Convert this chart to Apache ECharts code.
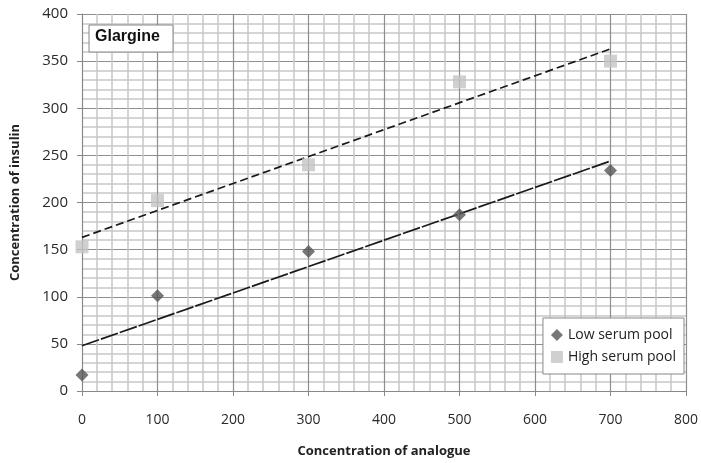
<!DOCTYPE html>
<html>
<head>
<meta charset="utf-8">
<script src="https://cdn.jsdelivr.net/npm/echarts@6/dist/echarts.min.js"></script>
<style>
  html, body { margin: 0; padding: 0; background: #fff; }
  #chart { width: 701px; height: 463px; }
</style>
</head>
<body>
<div id="chart"></div>
<script>
// data
const xValues = [0, 100, 300, 500, 700]
const lowSerum = [17, 101, 148, 187, 234]
const highSerum = [153, 202, 240, 328, 350]
// trend line end points (x = 0 and x = 700)
const trendX = [0, 700]
const lowTrend = [48, 244]
const highTrend = [163, 363]

const pairs = (xs, ys) => xs.map((x, i) => [x, ys[i]])

const chart = echarts.init(document.getElementById('chart'))

const axisText = { color: '#2a2a2a', fontSize: 14, fontFamily: 'Open Sans' }

const option = {
  animation: false,
  graphic: [
    {
      type: 'rect',
      z: 100,
      shape: { x: 89, y: 25, width: 84, height: 27 },
      style: { fill: '#fff', stroke: '#888', lineWidth: 1 }
    },
    {
      type: 'text',
      z: 101,
      x: 95,
      y: 29,
      style: { text: 'Glargine', font: 'bold 16px Liberation Sans', fill: '#111' }
    }
  ],
  grid: { left: 82, right: 14, top: 14, bottom: 71 },
  legend: {
    right: 17,
    top: 318,
    orient: 'vertical',
    itemWidth: 12,
    itemHeight: 12,
    itemGap: 8,
    padding: [10, 8, 10, 8],
    backgroundColor: '#fff',
    borderColor: '#888',
    borderWidth: 1,
    borderRadius: 0,
    textStyle: { color: '#222', fontSize: 14, fontFamily: 'Open Sans' },
    data: [
      { name: 'Low serum pool', icon: 'diamond' },
      { name: 'High serum pool', icon: 'rect' }
    ]
  },
  xAxis: {
    type: 'value',
    min: 0,
    max: 800,
    interval: 100,
    name: 'Concentration of analogue',
    nameLocation: 'middle',
    nameGap: 54,
    nameTextStyle: { color: '#222', fontSize: 13, fontWeight: 'bold', fontFamily: 'Open Sans' },
    axisLine: { lineStyle: { color: '#888', width: 1 } },
    axisTick: { show: true, length: 5, lineStyle: { color: '#888' } },
    axisLabel: Object.assign({ margin: 22 }, axisText),
    splitLine: { lineStyle: { color: '#8e8e8e', width: 1.2 } },
    minorTick: { show: false, splitNumber: 5 },
    minorSplitLine: { show: true, lineStyle: { color: '#c8c8c8', width: 1.5 } }
  },
  yAxis: {
    type: 'value',
    min: 0,
    max: 400,
    interval: 50,
    name: 'Concentration of insulin',
    nameLocation: 'middle',
    nameGap: 60,
    nameTextStyle: { color: '#222', fontSize: 13, fontWeight: 'bold', fontFamily: 'Open Sans' },
    axisLine: { show: true, lineStyle: { color: '#888', width: 1 } },
    axisTick: { show: true, length: 5, lineStyle: { color: '#888' } },
    axisLabel: Object.assign({ margin: 14 }, axisText, { fontSize: 15 }),
    splitLine: { lineStyle: { color: '#8e8e8e', width: 1.2 } },
    minorTick: { show: false, splitNumber: 5 },
    minorSplitLine: { show: true, lineStyle: { color: '#c8c8c8', width: 1.5 } }
  },
  series: [
    {
      name: 'Low trend',
      type: 'line',
      data: pairs(trendX, lowTrend),
      symbol: 'none',
      lineStyle: { color: '#1a1a1a', width: 1.7, type: [18, 2] },
      z: 3
    },
    {
      name: 'High trend',
      type: 'line',
      data: pairs(trendX, highTrend),
      symbol: 'none',
      lineStyle: { color: '#1a1a1a', width: 1.7, type: [8, 4] },
      z: 3
    },
    {
      name: 'Low serum pool',
      type: 'scatter',
      data: pairs(xValues, lowSerum),
      symbol: 'diamond',
      symbolSize: 13,
      itemStyle: { color: '#555' },
      z: 4
    },
    {
      name: 'High serum pool',
      type: 'scatter',
      data: pairs(xValues, highSerum),
      symbol: 'rect',
      symbolSize: 13,
      itemStyle: { color: '#c4c4c4' },
      z: 4
    }
  ]
}

chart.setOption(option)
</script>
</body>
</html>
